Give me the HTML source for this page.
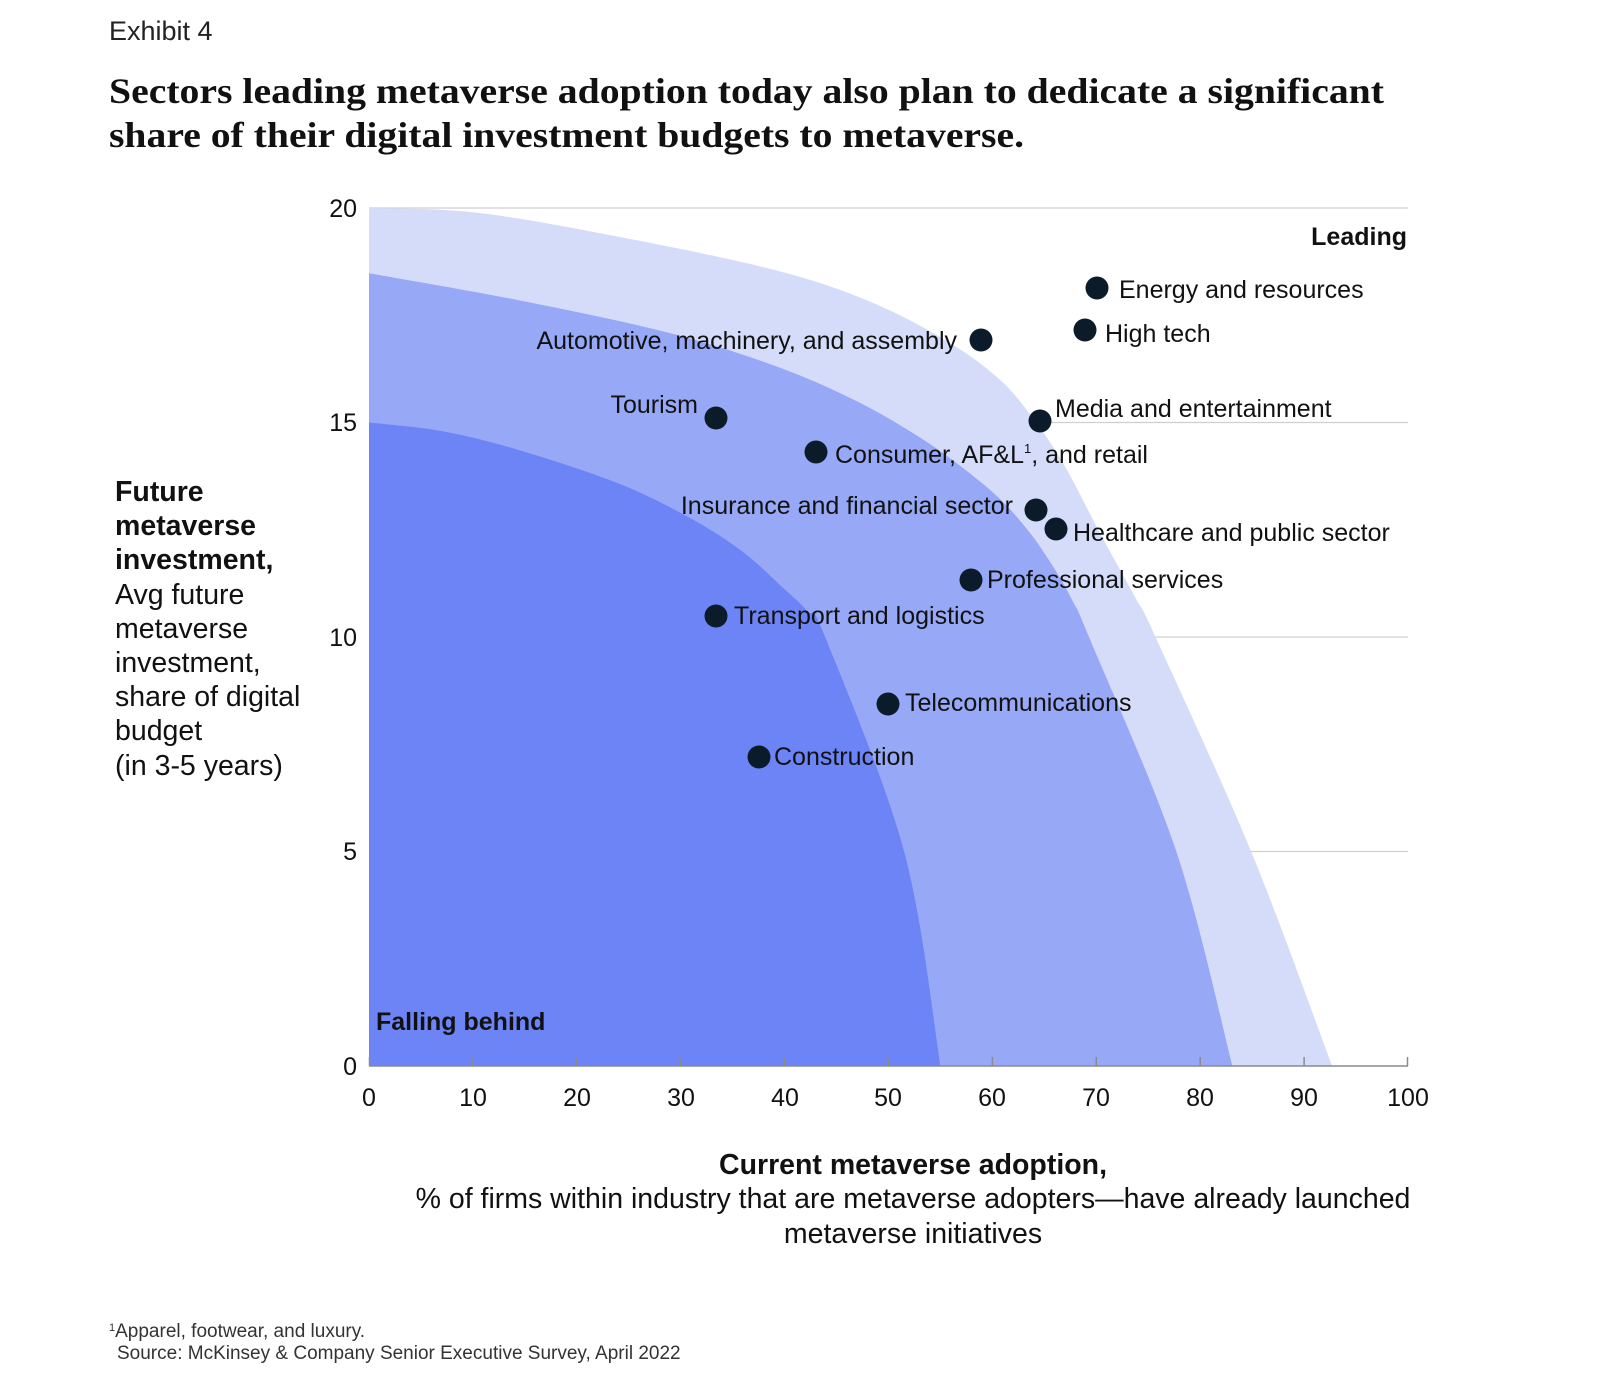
<!DOCTYPE html>
<html><head><meta charset="utf-8"><style>
html,body{margin:0;padding:0;background:#fff;}
svg{display:block;font-family:"Liberation Sans",sans-serif;}
</style></head><body>
<svg width="1602" height="1388" viewBox="0 0 1602 1388" xmlns="http://www.w3.org/2000/svg">
<text x="109" y="40" font-size="27" fill="#222">Exhibit 4</text>
<text x="109" y="103" font-family="Liberation Serif,serif" font-weight="bold" font-size="36" fill="#111" textLength="1275" lengthAdjust="spacingAndGlyphs">Sectors leading metaverse adoption today also plan to dedicate a significant</text>
<text x="109" y="147" font-family="Liberation Serif,serif" font-weight="bold" font-size="36" fill="#111" textLength="915" lengthAdjust="spacingAndGlyphs">share of their digital investment budgets to metaverse.</text>

<g stroke="#cfcfcf" stroke-width="1.2">
<line x1="369" x2="1408" y1="208" y2="208"/>
<line x1="369" x2="1408" y1="422.5" y2="422.5"/>
<line x1="369" x2="1408" y1="637" y2="637"/>
<line x1="369" x2="1408" y1="851.5" y2="851.5"/>
</g>

<g transform="translate(369,1066) scale(10.39,-42.9)">
<polygon id="pl" fill="#d5dcfa" points="0,0 0,20 10,19.9 22.5,19.4 38.3,18.6 47.9,17.85 55.6,16.9 60.8,15.98 64.2,15 67,13.97 70.4,12.4 73.8,10.9 75.7,10 84.9,5 92.7,0"/>
<polygon id="pm" fill="#96a8f6" points="0,0 0,18.48 14.4,17.85 28.7,17.1 39.3,16.3 46.9,15.5 52.7,14.7 57,13.97 60.8,13.2 63.7,12.4 66.2,11.5 67.8,10.8 69.3,10 77.7,5 83.1,0"/>
<polygon id="pd" fill="#6c84f5" points="0,0 0,15 7,14.8 14.4,14.36 23.9,13.59 30.7,12.8 35.9,12 39.6,11.2 42.2,10.6 43.9,10 51.5,5 55,0"/>
</g>

<g stroke="#8a8a8a" stroke-width="1.5">
<line x1="369" x2="1408" y1="1066" y2="1066"/>
<line x1="369.5" x2="369.5" y1="1057" y2="1066"/>
<line x1="472.9" x2="472.9" y1="1057" y2="1066"/>
<line x1="576.8" x2="576.8" y1="1057" y2="1066"/>
<line x1="680.7" x2="680.7" y1="1057" y2="1066"/>
<line x1="784.6" x2="784.6" y1="1057" y2="1066"/>
<line x1="888.5" x2="888.5" y1="1057" y2="1066"/>
<line x1="992.4" x2="992.4" y1="1057" y2="1066"/>
<line x1="1096.3" x2="1096.3" y1="1057" y2="1066"/>
<line x1="1200.2" x2="1200.2" y1="1057" y2="1066"/>
<line x1="1304.1" x2="1304.1" y1="1057" y2="1066"/>
<line x1="1407.5" x2="1407.5" y1="1057" y2="1066"/>
</g>

<g font-size="25" fill="#111" text-anchor="end">
<text x="357" y="217">20</text>
<text x="357" y="431">15</text>
<text x="357" y="646">10</text>
<text x="357" y="860">5</text>
<text x="357" y="1075">0</text>
</g>
<g font-size="25" fill="#111" text-anchor="middle">
<text x="369" y="1106">0</text>
<text x="473" y="1106">10</text>
<text x="577" y="1106">20</text>
<text x="681" y="1106">30</text>
<text x="785" y="1106">40</text>
<text x="888" y="1106">50</text>
<text x="992" y="1106">60</text>
<text x="1096" y="1106">70</text>
<text x="1200" y="1106">80</text>
<text x="1304" y="1106">90</text>
<text x="1408" y="1106">100</text>
</g>

<g fill="#0c1b2a">
<circle cx="1097" cy="288" r="11.5"/>
<circle cx="1085" cy="330" r="11.5"/>
<circle cx="981" cy="340" r="11.5"/>
<circle cx="716" cy="418" r="11.5"/>
<circle cx="1040" cy="421" r="11.5"/>
<circle cx="816" cy="452" r="11.5"/>
<circle cx="1036" cy="510" r="11.5"/>
<circle cx="1056" cy="529" r="11.5"/>
<circle cx="971" cy="580" r="11.5"/>
<circle cx="716" cy="616" r="11.5"/>
<circle cx="888" cy="704" r="11.5"/>
<circle cx="759" cy="757" r="11.5"/>
</g>

<g font-size="25" fill="#111">
<text x="1119" y="298">Energy and resources</text>
<text x="1105" y="342">High tech</text>
<text x="957" y="349" text-anchor="end">Automotive, machinery, and assembly</text>
<text x="698" y="413" text-anchor="end">Tourism</text>
<text x="1055" y="417">Media and entertainment</text>
<text x="835" y="463">Consumer, AF&amp;L<tspan font-size="13" dy="-10">1</tspan><tspan dy="10">, and retail</tspan></text>
<text x="1013" y="514" text-anchor="end">Insurance and financial sector</text>
<text x="1073" y="541">Healthcare and public sector</text>
<text x="987" y="588">Professional services</text>
<text x="734" y="624">Transport and logistics</text>
<text x="905" y="711">Telecommunications</text>
<text x="774" y="765">Construction</text>
<text x="1407" y="245" text-anchor="end" font-weight="bold">Leading</text>
<text x="376" y="1030" font-weight="bold">Falling behind</text>
</g>

<g font-size="28.5" fill="#111">
<text x="115" y="501" font-weight="bold">Future</text>
<text x="115" y="535" font-weight="bold">metaverse</text>
<text x="115" y="569" font-weight="bold">investment,</text>
<text x="115" y="604">Avg future</text>
<text x="115" y="638">metaverse</text>
<text x="115" y="672">investment,</text>
<text x="115" y="706">share of digital</text>
<text x="115" y="740">budget</text>
<text x="115" y="775">(in 3-5 years)</text>
</g>

<g font-size="28.5" fill="#111" text-anchor="middle">
<text x="913" y="1174" font-weight="bold">Current metaverse adoption,</text>
<text x="913" y="1208">% of firms within industry that are metaverse adopters—have already launched</text>
<text x="913" y="1243">metaverse initiatives</text>
</g>

<g font-size="19" fill="#333">
<text x="109" y="1337"><tspan font-size="11" dy="-6">1</tspan><tspan dy="6">Apparel, footwear, and luxury.</tspan></text>
<text x="117" y="1359">Source: McKinsey &amp; Company Senior Executive Survey, April 2022</text>
</g>
</svg>
<script>
(function(){
  ['pl','pm','pd'].forEach(function(id){
    var el=document.getElementById(id);
    var pts=el.getAttribute('points').trim().split(/\s+/).map(function(s){return s.split(',').map(Number);});
    var c=pts.slice(1);
    var d='M0,0 L'+c[0][0]+','+c[0][1];
    for(var i=0;i<c.length-1;i++){
      var p0=c[i-1]||c[i],p1=c[i],p2=c[i+1],p3=c[i+2]||c[i+1];
      var a=[p1[0]+(p2[0]-p0[0])/6,p1[1]+(p2[1]-p0[1])/6];
      var b=[p2[0]-(p3[0]-p1[0])/6,p2[1]-(p3[1]-p1[1])/6];
      d+=' C'+a[0]+','+a[1]+' '+b[0]+','+b[1]+' '+p2[0]+','+p2[1];
    }
    d+=' Z';
    var p=document.createElementNS('http://www.w3.org/2000/svg','path');
    p.setAttribute('d',d);p.setAttribute('fill',el.getAttribute('fill'));
    el.parentNode.replaceChild(p,el);
  });
})();
</script>
</body></html>
